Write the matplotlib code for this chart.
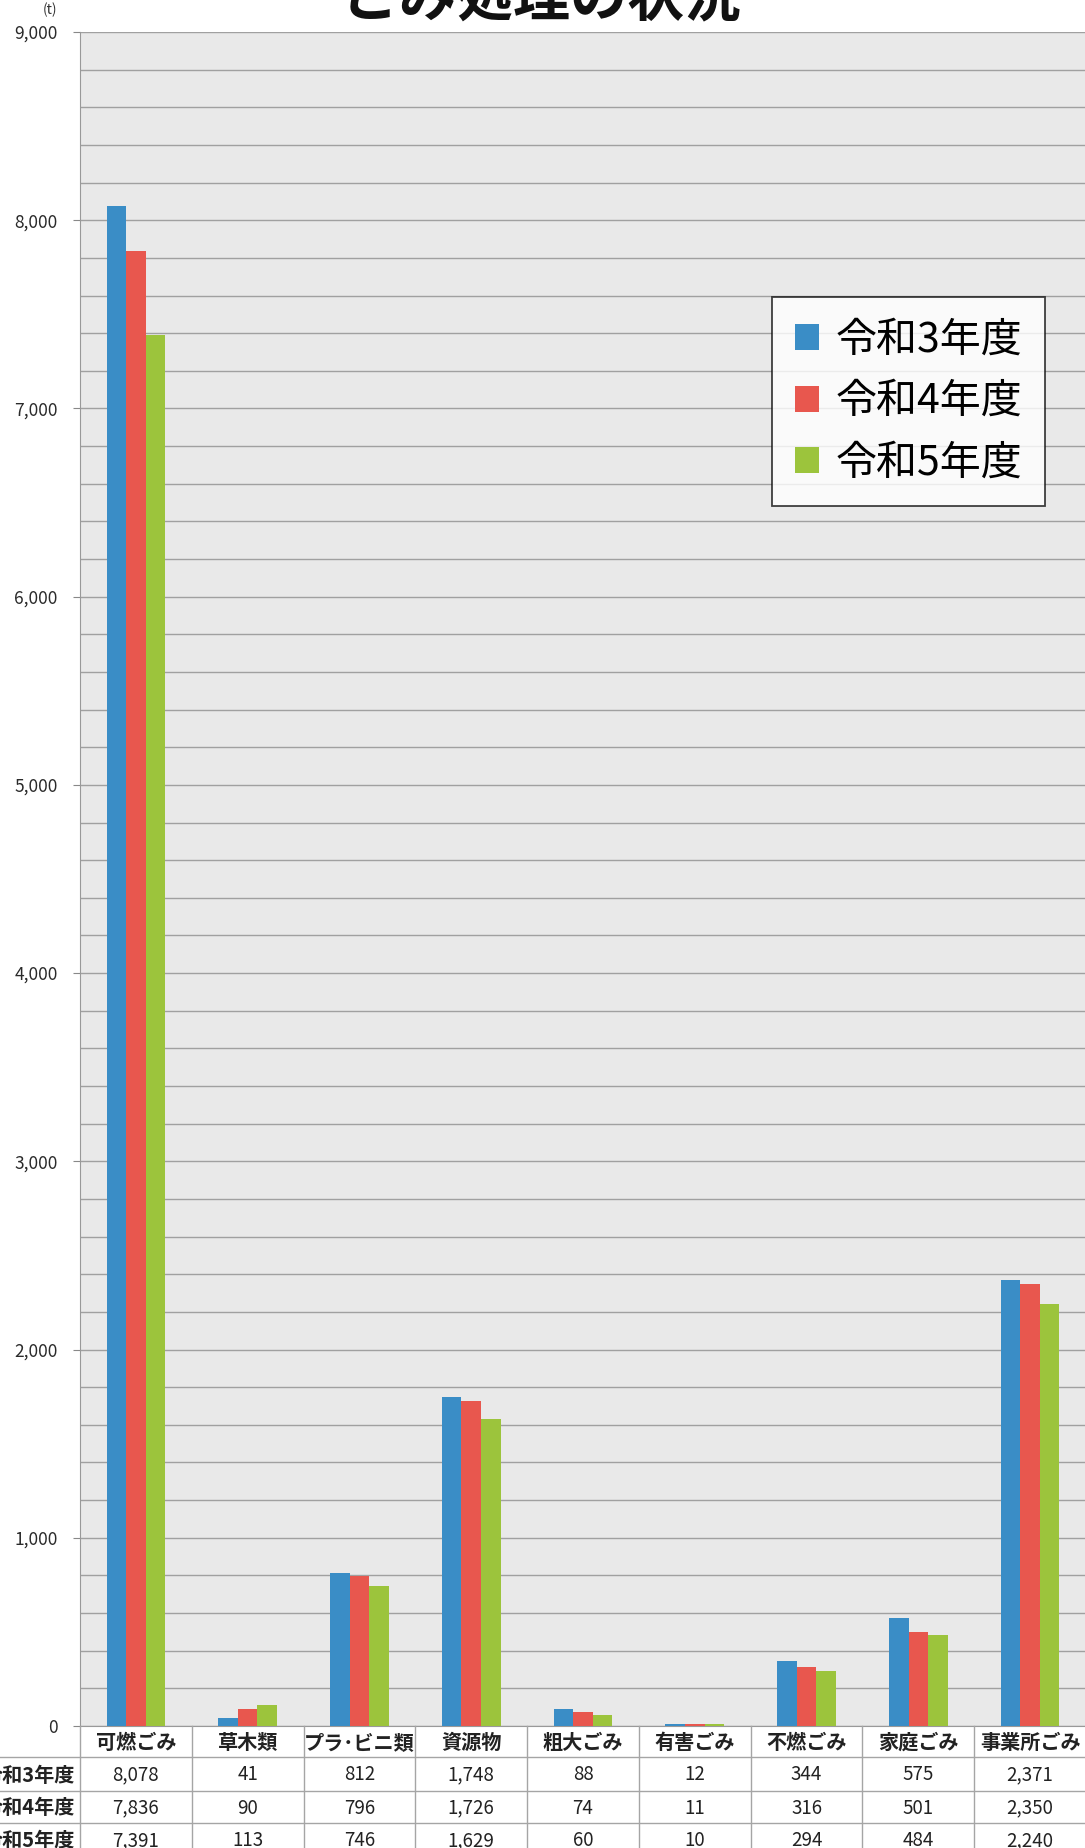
import matplotlib
matplotlib.use("Agg")
import matplotlib.pyplot as plt
import matplotlib.transforms as mtransforms
import numpy as np
from matplotlib.ticker import MultipleLocator, FuncFormatter

plt.rcParams['font.family'] = ['Noto Sans CJK JP', 'DejaVu Sans']

categories = ['可燃ごみ', '草木類', 'プラ･ビニ類', '資源物', '粗大ごみ', '有害ごみ', '不燃ごみ', '家庭ごみ', '事業所ごみ']
years = ['令和3年度', '令和4年度', '令和5年度']
r3 = [8078, 41, 812, 1748, 88, 12, 344, 575, 2371]
r4 = [7836, 90, 796, 1726, 74, 11, 316, 501, 2350]
r5 = [7391, 113, 746, 1629, 60, 10, 294, 484, 2240]
series = [r3, r4, r5]
colors = ['#3a8dc6', '#e8574e', '#9cc43c']

W, H = 1085, 1848
fig = plt.figure(figsize=(W / 100, H / 100), dpi=100)

# plot area in pixels
ax_l, ax_r = 80, 1086
ax_top, ax_bot = 32, 1726
ax = fig.add_axes([ax_l / W, (H - ax_bot) / H, (ax_r - ax_l) / W, (ax_bot - ax_top) / H])
ax.set_facecolor('#e9e9e9')

x = np.arange(len(categories))
bw = 0.175
for i, (vals, c) in enumerate(zip(series, colors)):
    ax.bar(x + (i - 1) * bw, vals, bw, color=c, label=years[i], zorder=3, linewidth=0)

ax.set_xlim(-0.5, len(categories) - 0.5)
ax.set_ylim(0, 9000)
ax.yaxis.set_major_locator(MultipleLocator(1000))
ax.yaxis.set_minor_locator(MultipleLocator(200))
ax.yaxis.set_major_formatter(FuncFormatter(lambda v, p: f'{int(v):,}'))
ax.grid(axis='y', which='both', color='#a0a0a0', linewidth=1.0, zorder=0)
ax.tick_params(axis='y', which='major', length=5, color='#888888', labelsize=12.5, labelcolor='#2a2a2a', pad=11)
ax.tick_params(axis='y', which='minor', length=0)
ax.set_xticks([])
for s in ['top', 'right']:
    ax.spines[s].set_visible(False)
ax.spines['left'].set_color('#999999')
ax.spines['bottom'].set_color('#999999')

fig.text(50 / W, 1 - 10 / H, '(t)', fontsize=10, ha='center', va='center', color='#333333')

# title, cut off at the top of the page
fig.text(542 / W, 1 - 15 / H, 'ごみ処理の状況', fontsize=41, fontweight='bold',
         ha='center', va='baseline', color='#111111')

leg = ax.legend(loc='upper left', bbox_to_anchor=(772 / W, 1 - 297 / H),
                bbox_transform=fig.transFigure, fontsize=29.5, frameon=True,
                fancybox=False, edgecolor='#111111', handlelength=0.6,
                handleheight=0.6, handletextpad=0.4, labelspacing=0.5,
                borderpad=0.55, borderaxespad=0)
leg.get_frame().set_linewidth(1.3)
leg.get_frame().set_facecolor('white')

# data table under the plot
tax = fig.add_axes([ax_l / W, 0, (ax_r - ax_l) / W, (H - ax_bot) / H])
tax.set_xlim(-0.5, len(categories) - 0.5)
tax.set_ylim(H, ax_bot)
tax.axis('off')
bt = mtransforms.blended_transform_factory(fig.transFigure, tax.transData)

rows = [1726, 1757, 1791, 1823, 1856]
line_kw = dict(color='#a5a5a5', linewidth=1.0, clip_on=False)
for yy in rows[1:-1]:
    tax.plot([0, ax_r / W], [yy, yy], transform=bt, **line_kw)
tax.plot([ax_l / W, ax_l / W], [rows[0], rows[-1]], transform=bt, **line_kw)
for b in x[:-1] + 0.5:
    tax.plot([b, b], [rows[0], rows[-1]], **line_kw)

for j, cat in enumerate(categories):
    tax.text(j, (rows[0] + rows[1]) / 2 + 1, cat, ha='center', va='center',
             fontsize=14.5, fontweight='bold', color='#222222')
    for i, vals in enumerate(series):
        tax.text(j, (rows[i + 1] + rows[i + 2]) / 2 + 1, f'{vals[j]:,}', ha='center', va='center',
                 fontsize=13.5, color='#222222')

for i, yr in enumerate(years):
    tax.text(75 / W, (rows[i + 1] + rows[i + 2]) / 2 + 1, yr, transform=bt, ha='right', va='center',
             fontsize=14.5, fontweight='bold', color='#222222')

fig.savefig('out.png', dpi=100, facecolor='white')
